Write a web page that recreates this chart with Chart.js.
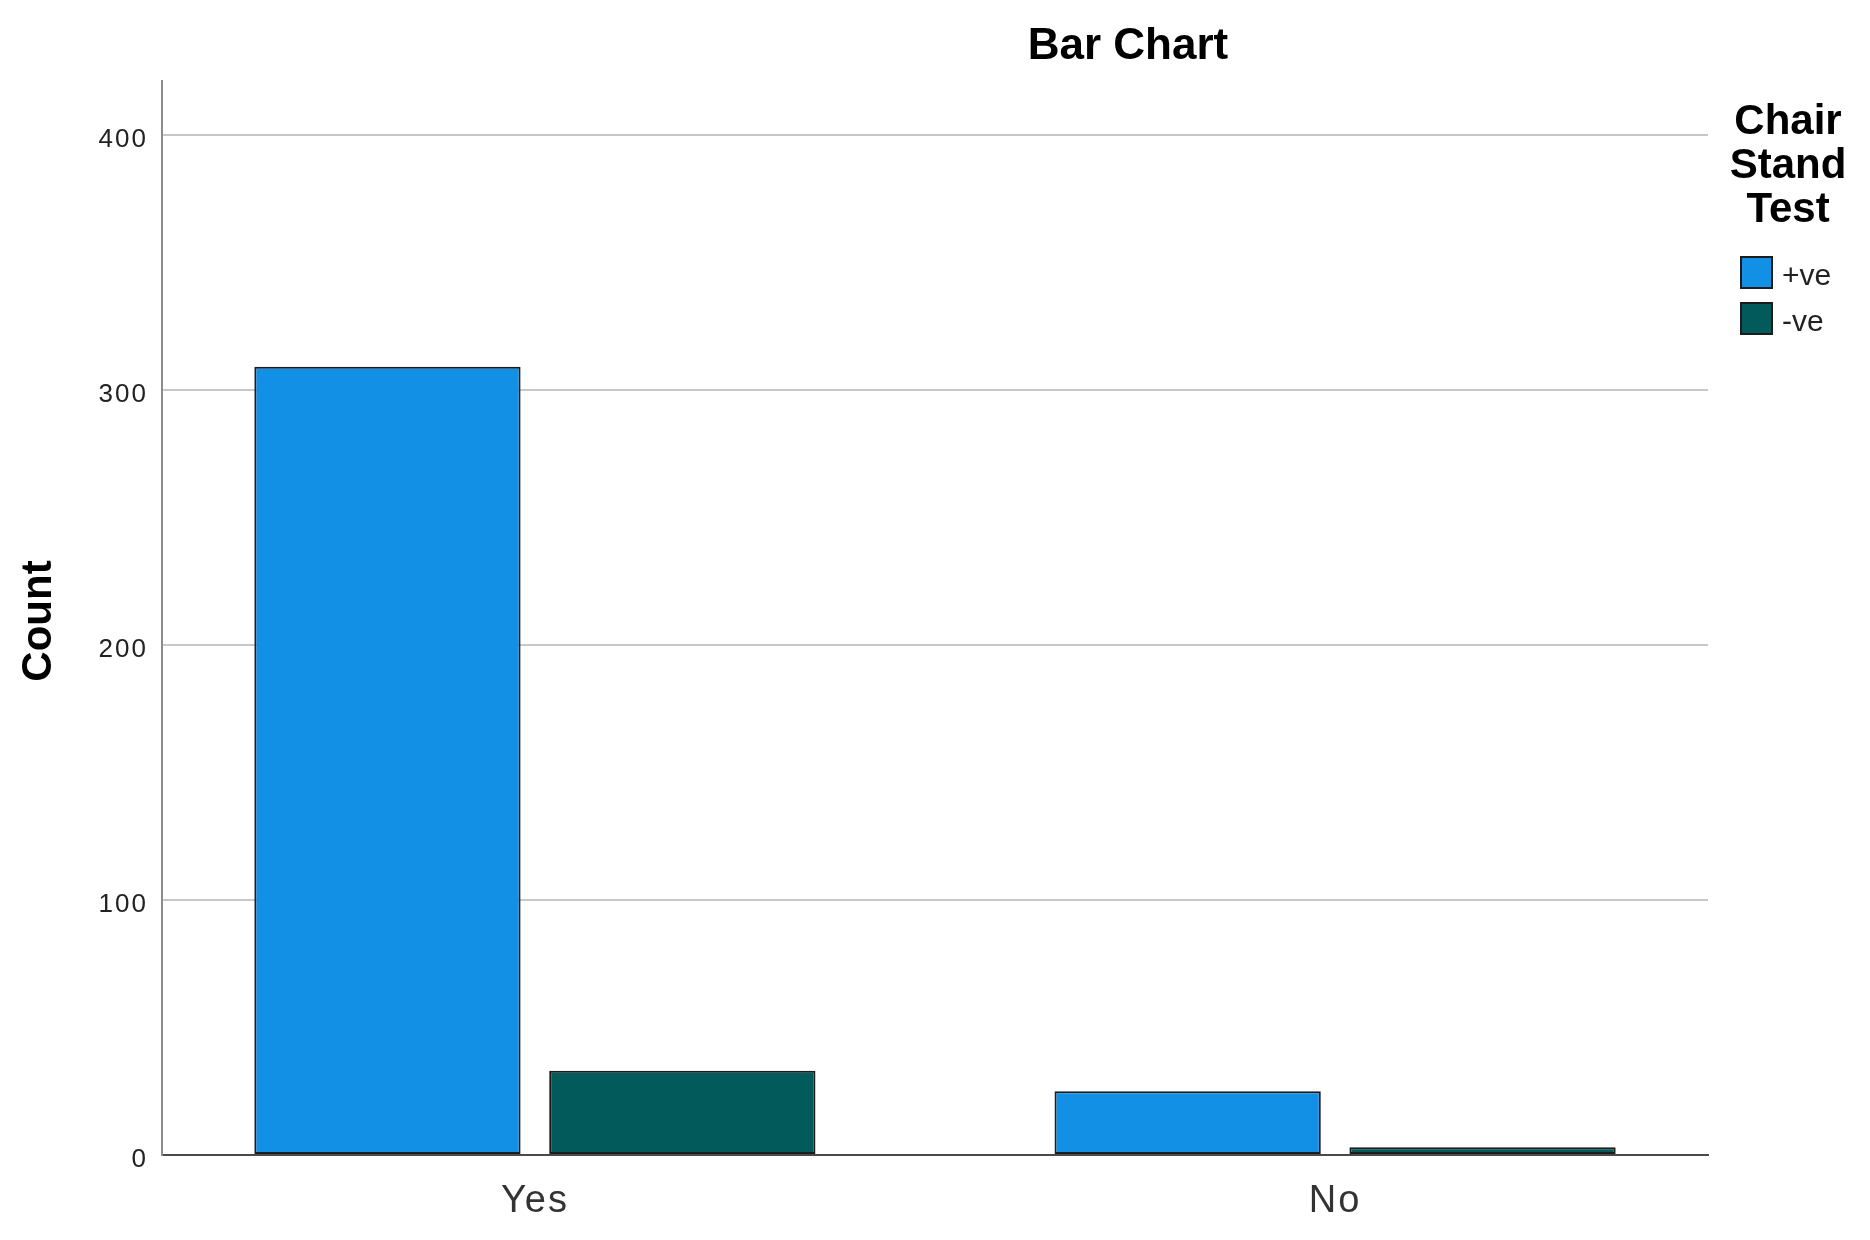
<!DOCTYPE html>
<html>
<head>
<meta charset="utf-8">
<script src="https://cdn.jsdelivr.net/npm/chart.js@4/dist/chart.umd.min.js"></script>
<style>
  body { margin: 0; background: #fff; }
  #wrap { width: 1870px; height: 1240px; }
</style>
</head>
<body>
<div id="wrap"><canvas id="barChart"></canvas></div>
<script>
// Data
const categories = ['Yes', 'No'];
const seriesNames = ['+ve', '-ve'];
const positiveCounts = [309, 25];
const negativeCounts = [33, 3];
const yTicks = [0, 100, 200, 300, 400];

const blue = '#1290e6';
const teal = '#025a5a';
const edge = '#1c1c1c';
const FONT = "'Liberation Sans', Arial, sans-serif";

function toPoints(values) {
    return values.map((v, i) => ({ x: i, y: v }));
}

// SPSS tick labels are a little spread out
const tickSpacing = {
    id: 'tickSpacing',
    beforeDraw(chart) { chart.ctx.letterSpacing = '2px'; },
    beforeDatasetsDraw(chart) { chart.ctx.letterSpacing = '0px'; }
};

// titles and legend drawn by hand, SPSS style
const annotations = {
    id: 'annotations',
    afterDraw(chart) {
        const ctx = chart.ctx;
        ctx.save();
        ctx.letterSpacing = '0px';
        ctx.fillStyle = '#000';
        ctx.textAlign = 'center';
        ctx.textBaseline = 'middle';

        ctx.font = 'bold 44px ' + FONT;
        ctx.fillText('Bar Chart', 1128, 47);

        ctx.save();
        ctx.translate(39, 621);
        ctx.rotate(-Math.PI / 2);
        ctx.font = "bold 42px 'Liberation Sans Narrow', " + FONT;
        ctx.fillText('Count', 0, 0);
        ctx.restore();

        ctx.font = 'bold 42px ' + FONT;
        ['Chair', 'Stand', 'Test'].forEach((line, i) => {
            ctx.fillText(line, 1788, 122 + i * 44);
        });

        const colors = [blue, teal];
        ctx.textAlign = 'left';
        ctx.font = '30px ' + FONT;
        seriesNames.forEach((name, i) => {
            const y = 257 + i * 46;
            ctx.fillStyle = colors[i];
            ctx.fillRect(1741, y, 31, 31);
            ctx.strokeStyle = edge;
            ctx.lineWidth = 2;
            ctx.strokeRect(1741, y, 31, 31);
            ctx.fillStyle = '#222';
            ctx.fillText(name, 1782, y + 20);
        });
        ctx.restore();
    }
};

new Chart(document.getElementById('barChart'), {
    type: 'bar',
    data: {
        datasets: [
            {
                label: seriesNames[0],
                data: toPoints(positiveCounts),
                backgroundColor: blue,
                borderColor: edge,
                borderWidth: 2,
                borderSkipped: false
            },
            {
                label: seriesNames[1],
                data: toPoints(negativeCounts),
                backgroundColor: teal,
                borderColor: edge,
                borderWidth: 2,
                borderSkipped: false
            }
        ]
    },
    options: {
        responsive: true,
        maintainAspectRatio: false,
        animation: false,
        categoryPercentage: 0.737,
        barPercentage: 0.903,
        layout: { padding: { top: 81, right: 162, left: 0, bottom: 0 } },
        plugins: {
            legend: { display: false },
            title: { display: false },
            tooltip: { enabled: false }
        },
        scales: {
            x: {
                type: 'linear',
                min: -0.466,
                max: 1.466,
                offset: false,
                afterFit(scale) { scale.height = 85; },
                afterBuildTicks(scale) {
                    scale.ticks = categories.map((c, i) => ({ value: i }));
                },
                ticks: {
                    padding: 20,
                    color: '#333',
                    font: { family: FONT, size: 38, lineHeight: 1 },
                    callback: (v) => categories[v]
                },
                grid: { display: false },
                border: { display: true, color: '#4a4a4a', width: 2 }
            },
            y: {
                min: 0,
                max: 421,
                afterFit(scale) { scale.width = 162; },
                afterBuildTicks(scale) {
                    scale.ticks = yTicks.map(v => ({ value: v }));
                },
                ticks: {
                    padding: 14,
                    labelOffset: 5,
                    color: '#222',
                    font: { family: FONT, size: 26 }
                },
                grid: {
                    drawTicks: false,
                    lineWidth: 2,
                    color: (c) => c.tick && c.tick.value === 0 ? 'rgba(0,0,0,0)' : '#c8c8c8'
                },
                border: { display: true, color: '#8c8c8c', width: 2 }
            }
        }
    },
    plugins: [tickSpacing, annotations]
});
</script>
</body>
</html>
